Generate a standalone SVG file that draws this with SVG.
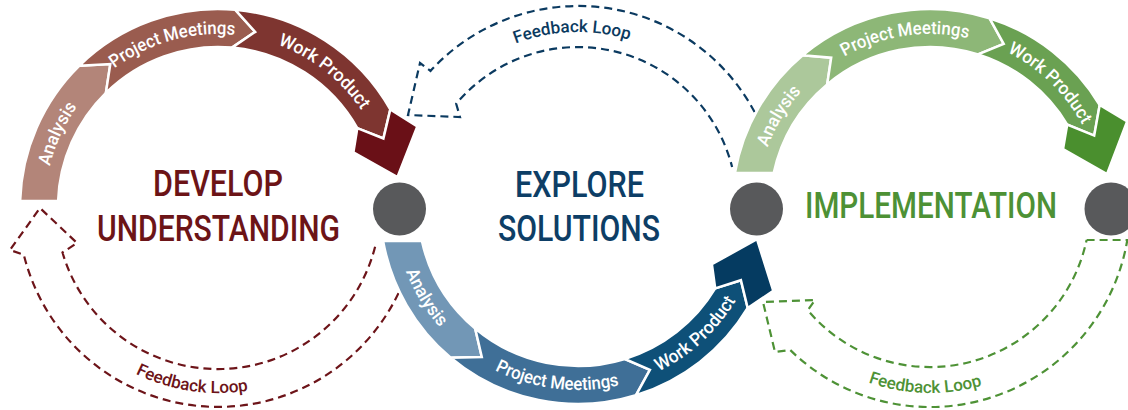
<svg xmlns="http://www.w3.org/2000/svg" width="1128" height="410" viewBox="0 0 1128 410">
<style>
.seg{stroke:#fff;stroke-width:2.5;stroke-linejoin:miter}
.lbl{font-family:Roboto,"Liberation Sans",sans-serif;font-size:18px;fill:#fff;font-weight:500}
.title{font-family:Roboto,"Liberation Sans",sans-serif;font-size:36px;font-weight:500;text-anchor:middle}
.loop{fill:none;stroke-width:2.2;stroke-dasharray:8 5}
.fb{font-family:Roboto,"Liberation Sans",sans-serif;font-size:17px;font-weight:500}
.dot{fill:#58595b}
</style>
<defs>
<path id="tpL" d="M45,207 A173,173 0 0 1 391,207"/>
<path id="tpB" d="M394,206 A184,184 0 0 0 762,206"/>
<path id="tpG" d="M757,207 A173,173 0 0 1 1103,207"/>
<path id="fbR" d="M32,207 A186,186 0 0 0 404,207"/>
<path id="fbB" d="M404,206 A174,174 0 0 1 752,206"/>
<path id="fbG" d="M744,207 A186,186 0 0 0 1116,207"/>
</defs>

<g id="connectors">
<g id="feedback-develop">
<path class="loop" stroke="#6d1419" d="M398.5,293.1 A200,200 0 0 1 23.8,254.7 L10,250 L40,208 L77,243 L62.5,252.5 A162,162 0 0 0 376,242.9"/>
<text class="fb" fill="#6d1419"><textPath href="#fbR" startOffset="264.6" text-anchor="middle" textLength="116" lengthAdjust="spacingAndGlyphs">Feedback Loop</textPath></text>
</g>
<g id="feedback-explore">
<path class="loop" stroke="#0b3a60" d="M754.6,112.1 A200,200 0 0 0 430.5,70.9 L420,63 L408,115 L460,117 L456.2,103.8 A159,159 0 0 1 732.1,167"/>
<text class="fb" fill="#0b3a60"><textPath href="#fbB" startOffset="267.2" text-anchor="middle" textLength="116" lengthAdjust="spacingAndGlyphs">Feedback Loop</textPath></text>
</g>
<g id="feedback-implementation">
<path class="loop" stroke="#4e9236" d="M1086.6,240 L1127.3,240 A200,200 0 0 1 790.1,349.9 L775,352 L763,302 L815,300 L807.8,310.3 A160,160 0 0 0 1086.6,240"/>
<text class="fb" fill="#4e9236"><textPath href="#fbG" startOffset="287" text-anchor="middle" textLength="116" lengthAdjust="spacingAndGlyphs">Feedback Loop</textPath></text>
</g>
</g>

<g id="stage-develop">
<path class="seg" fill="#b38579" d="M20.1,201 A198,198 0 0 1 79.2,65.8 L110.3,64.1 L105.9,92.9 A160,160 0 0 0 58.1,201 Z"/>
<path class="seg" fill="#9a5c4f" d="M79.2,65.8 A198,198 0 0 1 235.3,9.8 L255.2,31.9 L232,47.6 A160,160 0 0 0 105.9,92.9 L110.3,64.1 Z"/>
<path class="seg" fill="#7e3530" d="M235.3,9.8 A198,198 0 0 1 390.3,109.5 L383.4,138.5 L357.3,128.2 A160,160 0 0 0 232,47.6 L255.2,31.9 Z"/>
<path class="seg" fill="#6a1017" d="M390.3,109.5 L417.3,126.5 L397.5,177 L353.4,152.3 L357.3,128.2 L383.4,138.5 Z"/>
<text class="lbl"><textPath href="#tpL" startOffset="74" text-anchor="middle" textLength="66" lengthAdjust="spacingAndGlyphs">Analysis</textPath></text>
<text class="lbl"><textPath href="#tpL" startOffset="224.6" text-anchor="middle" textLength="128" lengthAdjust="spacingAndGlyphs">Project Meetings</textPath></text>
<text class="lbl"><textPath href="#tpL" startOffset="386.5" text-anchor="middle" textLength="108" lengthAdjust="spacingAndGlyphs">Work Product</textPath></text>
<text class="title" fill="#6c1417" x="218" y="196" textLength="130" lengthAdjust="spacingAndGlyphs">DEVELOP</text>
<text class="title" fill="#6c1417" x="218.5" y="241" textLength="243" lengthAdjust="spacingAndGlyphs">UNDERSTANDING</text>
</g>

<g id="stage-explore">
<path class="seg" fill="#7297b6" d="M383.1,241 A198,198 0 0 0 450.7,357.7 L481.8,357 L475.2,328.6 A160,160 0 0 1 421.9,241 Z"/>
<path class="seg" fill="#3f6f97" d="M450.7,357.7 A198,198 0 0 0 635.9,395.3 L649.9,369.9 L624.8,359 A160,160 0 0 1 475.2,328.6 L481.8,357 Z"/>
<path class="seg" fill="#0e5078" d="M635.9,395.3 A198,198 0 0 0 747.7,308 L740.9,280.2 L715.2,288.4 A160,160 0 0 1 624.8,359 L649.9,369.9 Z"/>
<path class="seg" fill="#053b61" d="M747.7,308 L773.3,290.9 L757,239.2 L711.9,264.2 L715.2,288.4 L740.9,280.2 Z"/>
<text class="lbl"><textPath href="#tpB" startOffset="99.6" text-anchor="middle" textLength="66" lengthAdjust="spacingAndGlyphs">Analysis</textPath></text>
<text class="lbl"><textPath href="#tpB" startOffset="266.6" text-anchor="middle" textLength="128" lengthAdjust="spacingAndGlyphs">Project Meetings</textPath></text>
<text class="lbl"><textPath href="#tpB" startOffset="425.5" text-anchor="middle" textLength="106" lengthAdjust="spacingAndGlyphs">Work Product</textPath></text>
<text class="title" fill="#0d3e66" x="579.5" y="197" textLength="129" lengthAdjust="spacingAndGlyphs">EXPLORE</text>
<text class="title" fill="#0d3e66" x="579" y="241" textLength="162" lengthAdjust="spacingAndGlyphs">SOLUTIONS</text>
</g>

<g id="stage-implementation">
<path class="seg" fill="#acc89b" d="M734.9,173 A198,198 0 0 1 802.7,55.3 L831.2,57.7 L827.2,84.4 A160,160 0 0 0 773.7,173 Z"/>
<path class="seg" fill="#8db777" d="M802.7,55.3 A198,198 0 0 1 989.5,18.2 L1003.7,43.9 L978.1,54.4 A160,160 0 0 0 827.2,84.4 L831.2,57.7 Z"/>
<path class="seg" fill="#6aa152" d="M989.5,18.2 A198,198 0 0 1 1099.7,105 L1094.2,135.6 L1067.2,124.6 A160,160 0 0 0 978.1,54.4 L1003.7,43.9 Z"/>
<path class="seg" fill="#4a8f2e" d="M1099.7,105 L1127.2,121.3 L1107,174.2 L1063,149.2 L1067.2,124.6 L1094.2,135.6 Z"/>
<text class="lbl"><textPath href="#tpG" startOffset="93.6" text-anchor="middle" textLength="66" lengthAdjust="spacingAndGlyphs">Analysis</textPath></text>
<text class="lbl"><textPath href="#tpG" startOffset="246.1" text-anchor="middle" textLength="128" lengthAdjust="spacingAndGlyphs">Project Meetings</textPath></text>
<text class="lbl"><textPath href="#tpG" startOffset="404.6" text-anchor="middle" textLength="106" lengthAdjust="spacingAndGlyphs">Work Product</textPath></text>
<text class="title" fill="#4d9135" x="931" y="218" textLength="252" lengthAdjust="spacingAndGlyphs">IMPLEMENTATION</text>
</g>

<g id="dot-1"><circle class="dot" cx="399.5" cy="209" r="26.5"/></g>
<g id="dot-2"><circle class="dot" cx="756.5" cy="209" r="26.5"/></g>
<g id="dot-3"><circle class="dot" cx="1111" cy="209" r="26.5"/></g>
</svg>
